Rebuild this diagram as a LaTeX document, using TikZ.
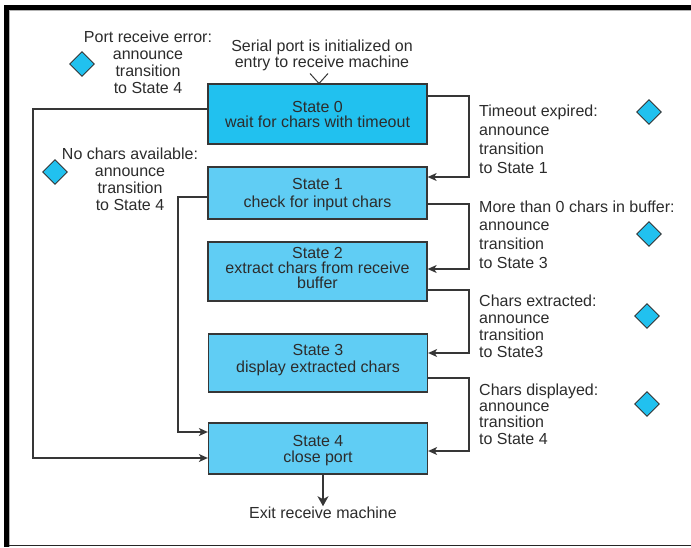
\documentclass[tikz,border=0pt]{standalone}
\usepackage{fontspec}
\setmainfont{Liberation Sans}
\usetikzlibrary{arrows.meta,shapes.geometric}
\definecolor{ink}{HTML}{2C2C2C}
\definecolor{cyanA}{HTML}{21C1EF}
\definecolor{cyanB}{HTML}{60CDF4}
\definecolor{edgec}{HTML}{363636}

\begin{document}
\begin{tikzpicture}[x=1pt,y=-1pt,
  every node/.style={text=ink},
  state/.style={draw=edgec, line width=1.3pt, fill=cyanB, minimum width=219pt,
    align=center, inner sep=0pt},
  marker/.style={diamond, draw=edgec, line width=0.9pt, fill=cyanA,
    minimum width=25pt, minimum height=25pt, inner sep=0pt},
  lbl/.style={align=left, inner sep=0pt, anchor=north west},
  clbl/.style={align=center, inner sep=0pt, anchor=north},
  flow/.style={draw=edgec, line width=1.1pt,
    -{Stealth[length=9pt,width=8pt,inset=2.5pt]}},
  exitflow/.style={draw=edgec, line width=1.3pt,
    -{Stealth[length=10pt,width=11pt,inset=3pt]}},
]
\useasboundingbox (0,0) rectangle (691,547);
\fill[white] (0,0) rectangle (691,547);

% page frame
\fill[black] (4,4.5) rectangle (691,10);
\fill[black] (4,4.5) rectangle (9,547);
\draw[black!30, line width=1pt] (9,10.5) -- (691,10.5);
\draw[black!30, line width=1pt] (9.5,10) -- (9.5,547);
\draw[black!85, line width=1.2pt] (9,545.6) -- (691,545.6);

% states (text height/depth measured from the last line's baseline)
\node[state, fill=cyanA, font=\fontsize{16}{15}\selectfont,
  text height=43pt, text depth=17pt] (s0) at (317.5,114)
  {State 0\\wait for chars with timeout};
\node[state, font=\fontsize{16}{18}\selectfont,
  text height=40pt, text depth=12pt] (s1) at (317.5,193)
  {State 1\\check for input chars};
\node[state, font=\fontsize{16}{15}\selectfont,
  text height=46pt, text depth=13pt] (s2) at (317.5,271.5)
  {State 2\\extract chars from receive\\buffer};
\node[state, font=\fontsize{16}{17.5}\selectfont,
  text height=38.5pt, text depth=19.5pt] (s3) at (318,363)
  {State 3\\display extracted chars};
\node[state, font=\fontsize{16}{16}\selectfont,
  text height=39pt, text depth=12pt] (s4) at (318,448.5)
  {State 4\\close port};

% labels
\node[clbl, font=\fontsize{16}{16}\selectfont] (init) at (322,39.3)
  {Serial port is initialized on\\entry to receive machine};
\node[clbl, font=\fontsize{16}{17}\selectfont] (lerr) at (148,30.5)
  {Port receive error:\\announce\\transition\\to State 4};
\node[clbl, font=\fontsize{16}{17}\selectfont] (lnone) at (130,147.3)
  {No chars available:\\announce\\transition\\to State 4};
\node[lbl, font=\fontsize{16}{19}\selectfont] (t01) at (479,104.3)
  {Timeout expired:\\announce\\transition\\to State 1};
\node[lbl, font=\fontsize{16}{18.7}\selectfont] (t12) at (479,200.3)
  {More than 0 chars in buffer:\\announce\\transition\\to State 3};
\node[lbl, font=\fontsize{16}{17}\selectfont] (t23) at (479,294.3)
  {Chars extracted:\\announce\\transition\\to State3};
\node[lbl, font=\fontsize{16}{16.4}\selectfont] (t34) at (479,383.3)
  {Chars displayed:\\announce\\transition\\to State 4};
\node[inner sep=0pt, anchor=base, font=\fontsize{16}{16}\selectfont] (exit) at (323,518)
  {Exit receive machine};

% diamond markers
\node[marker] (dErr) at (82,64) {};
\node[marker] (dNone) at (55,172) {};
\node[marker] (d01) at (649,112) {};
\node[marker] (d12) at (649,234) {};
\node[marker] (d23) at (647,316) {};
\node[marker] (d34) at (647,404) {};

% columns used by the connectors
\coordinate (rc) at (469,0);
\coordinate (lc1) at (33,0);
\coordinate (lc2) at (178,0);
\coordinate (entry) at (319,83.5);

% entry mark
\draw[edgec, line width=1pt] (entry) ++(-9,-10) -- (entry) -- ++(9,-10);

% transitions
\draw[flow] (s0.east |- 0,96) -| (rc |- 0,177) -- (s1.east |- 0,177);
\draw[flow] (s1.east |- 0,204) -| (rc |- 0,269) -- (s2.east |- 0,269);
\draw[flow] (s2.east |- 0,290) -| (rc |- 0,353) -- (s3.east |- 0,353);
\draw[flow] (s3.east |- 0,378) -| (rc |- 0,451) -- (s4.east |- 0,451);
\draw[flow] (s0.west |- 0,109) -| (lc1 |- 0,458) -- (s4.west |- 0,458);
\draw[flow] (s1.west |- 0,197) -| (lc2 |- 0,432) -- (s4.west |- 0,432);
\draw[exitflow] (exit.north |- s4.south) -- (exit.north);
\end{tikzpicture}
\end{document}
